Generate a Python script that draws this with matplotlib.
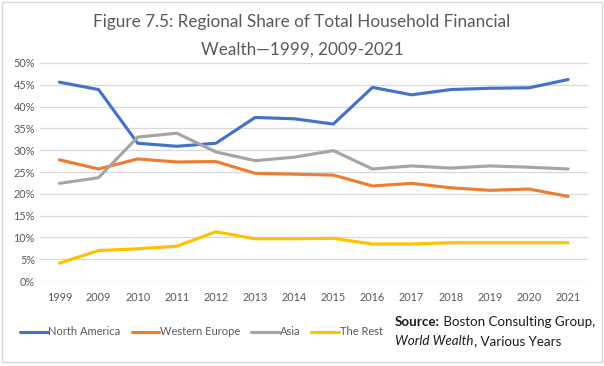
import matplotlib
matplotlib.use("Agg")
import matplotlib.pyplot as plt
from matplotlib.patches import Rectangle
from matplotlib.ticker import PercentFormatter

plt.rcParams['font.family'] = ['Lato', 'DejaVu Sans']

years = ['1999', '2009', '2010', '2011', '2012', '2013', '2014', '2015',
         '2016', '2017', '2018', '2019', '2020', '2021']
north_america = [45.6, 43.9, 31.6, 30.9, 31.6, 37.5, 37.2, 36.0, 44.4, 42.7, 43.9, 44.2, 44.3, 46.2]
western_europe = [27.8, 25.7, 28.0, 27.3, 27.4, 24.7, 24.5, 24.3, 21.8, 22.4, 21.4, 20.8, 21.1, 19.4]
asia = [22.4, 23.7, 33.0, 33.9, 29.6, 27.6, 28.4, 29.9, 25.7, 26.4, 25.9, 26.4, 26.1, 25.7]
the_rest = [4.1, 7.0, 7.4, 8.0, 11.3, 9.7, 9.7, 9.8, 8.5, 8.5, 8.8, 8.8, 8.8, 8.8]

series = [
    ('North America', north_america, '#4472C4'),
    ('Western Europe', western_europe, '#ED7D31'),
    ('Asia', asia, '#A5A5A5'),
    ('The Rest', the_rest, '#FFC000'),
]

fig = plt.figure(figsize=(6.04, 3.66), dpi=100)
ax = fig.add_axes([0.066, 0.232, 0.907, 0.596])

x = range(len(years))
for name, vals, col in series:
    ax.plot(x, vals, color=col, linewidth=2.25, label=name, solid_capstyle='round')

ax.set_xlim(-0.5, len(years) - 0.5)
ax.set_ylim(0, 50)
ax.set_yticks(range(0, 51, 5))
ax.yaxis.set_major_formatter(PercentFormatter(decimals=0))
ax.set_xticks(list(x))
ax.set_xticklabels(years)
ax.tick_params(length=0, labelsize=7.8, labelcolor='#595959')
ax.tick_params(axis='x', pad=8)
ax.grid(axis='y', color='#D9D9D9', linewidth=0.9)
ax.set_axisbelow(True)
for s in ax.spines.values():
    s.set_visible(False)

# title, two lines
fig.text(0.5, 0.94, "Figure 7.5: Regional Share of Total Household Financial",
         ha='center', va='center', fontsize=12.3, color='#595959')
fig.text(0.5, 0.865, "Wealth\u20141999, 2009-2021",
         ha='center', va='center', fontsize=12.3, color='#595959')

fig.legend(loc='center left', bbox_to_anchor=(0.033, 0.093), ncol=4, frameon=False,
           fontsize=8, handlelength=2.5, handletextpad=0.05, columnspacing=1.0,
           labelcolor='#595959', borderpad=0, borderaxespad=0)

# source note, built from pieces
fig.canvas.draw()
r = fig.canvas.get_renderer()
inv = fig.transFigure.inverted()

def piece(xf, yf, s, **kw):
    t = fig.text(xf, yf, s, fontsize=9.6, color='#1a1a1a', va='baseline', **kw)
    bb = t.get_window_extent(renderer=r)
    return inv.transform((bb.x1, 0))[0]

x0 = 0.654
xe = piece(x0, 0.108, "Source:", weight='bold')
piece(xe, 0.108, " Boston Consulting Group,")
xe = piece(x0, 0.058, "World Wealth", style='italic')
piece(xe, 0.058, ", Various Years")

fig.add_artist(Rectangle((0.003, 0.01), 0.994, 0.985, transform=fig.transFigure,
                         fill=False, edgecolor='#D9D9D9', linewidth=1))

fig.savefig('out.png', dpi=100)
